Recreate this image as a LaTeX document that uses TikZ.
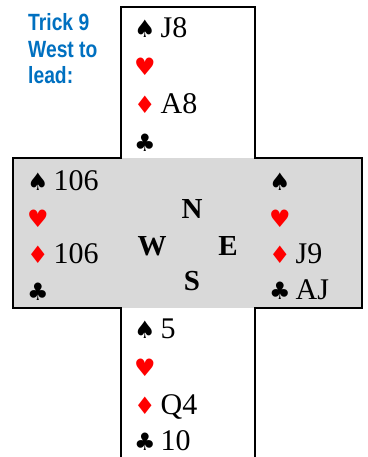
\documentclass[tikz,border=0pt]{standalone}
\usepackage{fontspec}
\setmainfont{Liberation Serif}
\newfontfamily\notefont[FakeStretch=0.82]{Liberation Sans}
\newfontfamily\suitfont{DejaVu Sans}
\usetikzlibrary{positioning}
\definecolor{trickblue}{RGB}{0,112,192}
\definecolor{tablegray}{RGB}{217,217,217}
\definecolor{suitred}{RGB}{255,0,0}
% suit symbols
\newcommand{\spd}{{\suitfont\fontsize{24}{24}\selectfont ♠}\hspace{5pt}}
\newcommand{\hrt}{{\suitfont\fontsize{24}{24}\selectfont\color{suitred}♥}\hspace{5pt}}
\newcommand{\dmd}{{\suitfont\fontsize{24}{24}\selectfont\color{suitred}♦}\hspace{5pt}}
\newcommand{\clb}{{\suitfont\fontsize{24}{24}\selectfont ♣}\hspace{5pt}}

\begin{document}
\begin{tikzpicture}[x=1pt, y=-1pt,
  hand/.style={anchor=base west, inner sep=0pt, font=\fontsize{30}{36}\selectfont},
  seat/.style={anchor=base, inner sep=0pt, font=\fontsize{29}{34}\selectfont\bfseries},
  note/.style={anchor=base west, align=left, inner sep=0pt, text=trickblue, font=\notefont\bfseries\fontsize{23.5}{26.5}\selectfont},
  frame/.style={line width=2.8pt, line join=miter}
]
\useasboundingbox (0,0) rectangle (367,457);
\fill[tablegray] (13,158) rectangle (362,308);
\draw[frame] (121,457) -- (121,308) -- (13,308) -- (13,158) -- (121,158) -- (121,7)
  -- (255,7) -- (255,158) -- (362,158) -- (362,308) -- (255,308) -- (255,457);

\node[note] (trick1) at (28,31) {Trick 9};
\node[note] (trick2) at (28,57.5) {West to};
\node[note] (trick3) at (28,84) {lead:};

% North
\node[hand] (n1) at (134,38) {\spd J8};
\node[hand] (n2) at (134,76) {\hrt};
\node[hand] (n3) at (134,114) {\dmd A8};
\node[hand] (n4) at (134,152) {\clb};

% West
\node[hand] (w1) at (27,190) {\spd 106};
\node[hand] (w2) at (27,227) {\hrt};
\node[hand] (w3) at (27,263) {\dmd 106};
\node[hand] (w4) at (27,300) {\clb};

% East
\node[hand] (e1) at (269,190) {\spd};
\node[hand] (e2) at (269,227) {\hrt};
\node[hand] (e3) at (269,263) {\dmd J9};
\node[hand] (e4) at (269,299) {\clb AJ};

% South
\node[hand] (s1) at (134,338) {\spd 5};
\node[hand] (s2) at (134,376) {\hrt};
\node[hand] (s3) at (134,414) {\dmd Q4};
\node[hand] (s4) at (134,450) {\clb 10};

% compass
\node[seat] (north) at (192,218) {N};
\node[seat] (west) at (152,255) {W};
\node[seat] (east) at (228,255) {E};
\node[seat] (south) at (192,290) {S};
\end{tikzpicture}
\end{document}
